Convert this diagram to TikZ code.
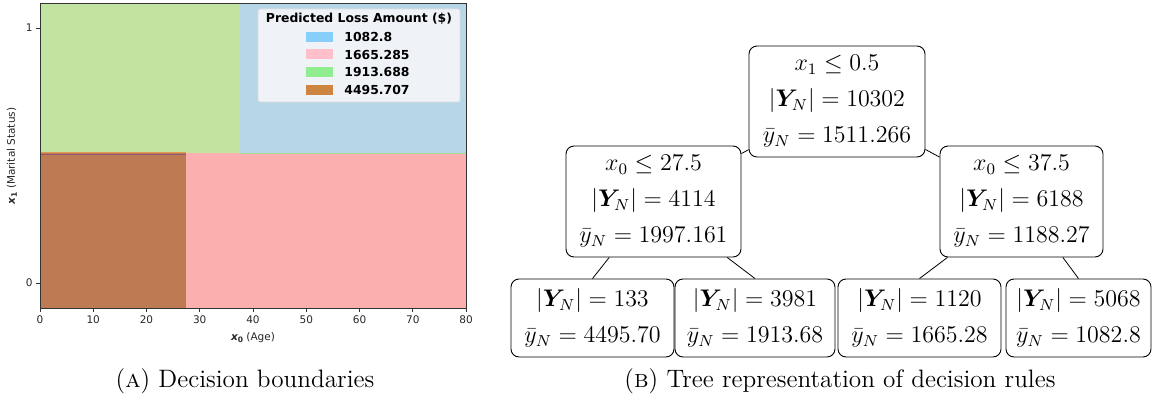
\documentclass[tikz,border=0pt]{standalone}
\usepackage{amsmath,amssymb,bm}
\usepackage{fontspec}
\newfontfamily\dejavu{DejaVu Sans}
\definecolor{cgreen}{HTML}{C3E3A0}
\definecolor{cblue}{HTML}{B8D7E6}
\definecolor{cbrown}{HTML}{BE7B53}
\definecolor{cpink}{HTML}{FBAFAF}
\definecolor{lblue}{HTML}{87CEFA}
\definecolor{lpink}{HTML}{FFC0CB}
\definecolor{lgreen}{HTML}{90EE90}
\definecolor{lbrown}{HTML}{CD853F}
\definecolor{legbg}{HTML}{EFF3F8}
\definecolor{legborder}{HTML}{D8DCE0}
\definecolor{bline1}{HTML}{E09A50}
\definecolor{bline2}{HTML}{8E5A78}
\definecolor{bline3}{HTML}{A9DA95}
\tikzset{
  x=0.5pt, y=-0.5pt,
  tn/.style={draw, rounded corners=4pt, line width=0.45pt, inner sep=0pt, align=center,
    font=\fontsize{12}{18}\selectfont},
  leafn/.style={tn, minimum height=39pt},
  intn/.style={tn, minimum height=55.5pt},
  edge/.style={line width=0.4pt},
  ticklab/.style={font=\dejavu\fontsize{5.25}{6}\selectfont, text=black!85, inner sep=0pt},
  axlab/.style={font=\dejavu\fontsize{5.25}{6}\selectfont, text=black!85, inner sep=0pt},
  legtxt/.style={font=\dejavu\bfseries\fontsize{6.2}{7}\selectfont, inner sep=0pt},
  tickmark/.style={line width=0.4pt, black!80},
  captext/.style={font=\fontsize{12.6}{15}\selectfont, inner sep=0pt, anchor=base}
}
\begin{document}
\begin{tikzpicture}
\useasboundingbox (0,0) rectangle (1157,400);
% ---------- left plot ----------
\fill[cgreen] (40,3) rectangle (240,153.5);
\fill[cblue] (240,3) rectangle (466,153.5);
\fill[cbrown] (40,153.5) rectangle (186,308);
\fill[cpink] (186,153.5) rectangle (466,308);
\draw[line width=0.45pt, bline1] (40,152.8) -- (186,152.8);
\draw[line width=0.45pt, bline2] (40,154.6) -- (186,154.6);
\draw[line width=0.3pt, bline3] (240,153) -- (466,153);
\draw[line width=0.45pt, black!80] (40,3) rectangle (466,308);
% x ticks
\foreach \v in {0,10,...,80} {
  \draw[tickmark] ({40+5.325*\v},308) -- ({40+5.325*\v},312.5);
  \node[ticklab] (xt\v) at ({40+5.325*\v},319.5) {\v};
}
% y ticks
\draw[tickmark] (35.5,28) -- (40,28);
\draw[tickmark] (35.5,283) -- (40,283);
\node[ticklab, anchor=east] (yt1) at (33,28) {1};
\node[ticklab, anchor=east] (yt0) at (33,283) {0};
% axis labels
\node[axlab] (xlab) at (253,337.5) {{\bfseries\itshape x}\raisebox{-1pt}{\fontsize{3.75}{4}\selectfont\bfseries 0} (Age)};
\node[axlab, rotate=90] (ylab) at (12,156) {{\bfseries\itshape x}\raisebox{-1pt}{\fontsize{3.75}{4}\selectfont\bfseries 1} (Marital Status)};
% legend
\node[draw=legborder, fill=legbg, rounded corners=1pt, line width=0.3pt, minimum width=101pt, minimum height=46.5pt, inner sep=0pt] (leg) at (359,55.5) {};
\node[legtxt] (legt) at (359,18.5) {Predicted Loss Amount (\$)};
\fill[lblue] (306,32) rectangle (333,42);
\fill[lpink] (306,49.5) rectangle (333,59.5);
\fill[lgreen] (306,67) rectangle (333,77);
\fill[lbrown] (306,85) rectangle (333,95);
\node[legtxt, anchor=west] (l1) at (344,37) {1082.8};
\node[legtxt, anchor=west] (l2) at (344,54.5) {1665.285};
\node[legtxt, anchor=west] (l3) at (344,72) {1913.688};
\node[legtxt, anchor=west] (l4) at (344,90) {4495.707};
\node[captext] (capA) at (245,388) {(\textsc{a}) Decision boundaries};
% ---------- tree ----------
\node[intn, minimum width=88pt] (root) at (837,101.5)
  {$x_1 \le 0.5$\\ $|\bm{Y}_N| = 10302$\\ $\bar{y}_N = 1511.266$};
\node[intn, minimum width=87.5pt] (lint) at (653.5,201.5)
  {$x_0 \le 27.5$\\ $|\bm{Y}_N| = 4114$\\ $\bar{y}_N = 1997.161$};
\node[intn, minimum width=81.5pt] (rint) at (1021.5,201.5)
  {$x_0 \le 37.5$\\ $|\bm{Y}_N| = 6188$\\ $\bar{y}_N = 1188.27$};
\node[leafn, minimum width=81.5pt] (leaf1) at (592.5,318)
  {$|\bm{Y}_N| = 133$\\ $\bar{y}_N = 4495.70$};
\node[leafn, minimum width=80pt] (leaf2) at (755,318)
  {$|\bm{Y}_N| = 3981$\\ $\bar{y}_N = 1913.68$};
\node[leafn, minimum width=81.5pt] (leaf3) at (919.5,318)
  {$|\bm{Y}_N| = 1120$\\ $\bar{y}_N = 1665.28$};
\node[leafn, minimum width=72.5pt] (leaf4) at (1078.5,318)
  {$|\bm{Y}_N| = 5068$\\ $\bar{y}_N = 1082.8$};
\draw[edge] (root) -- (lint);
\draw[edge] (root) -- (rint);
\draw[edge] (lint) -- (leaf1.north);
\draw[edge] (lint) -- (leaf2.north);
\draw[edge] (rint) -- (leaf3.north);
\draw[edge] (rint) -- (leaf4.north);
\node[captext] (capB) at (840,388) {(\textsc{b}) Tree representation of decision rules};
\end{tikzpicture}
\end{document}
